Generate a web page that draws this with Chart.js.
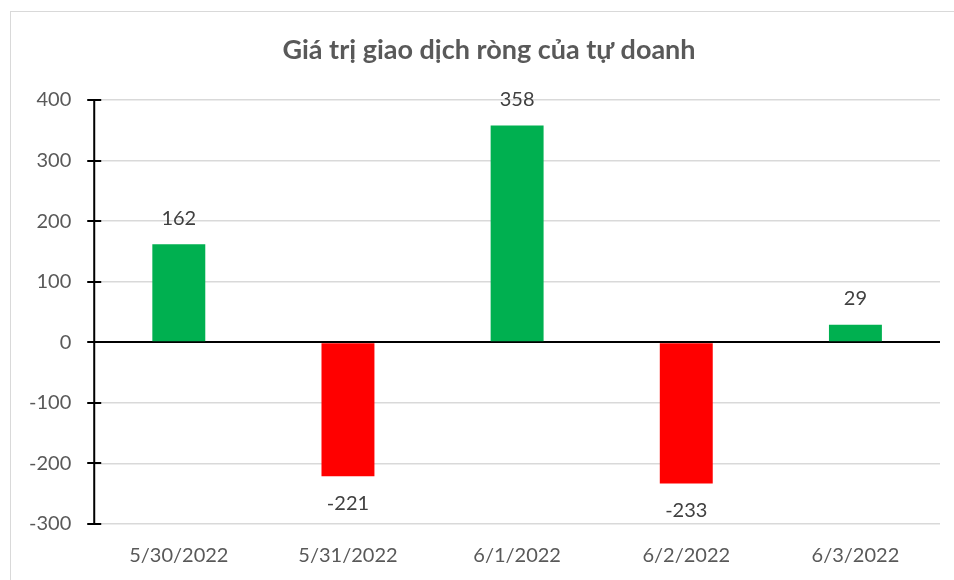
<!DOCTYPE html>
<html>
<head>
<meta charset="utf-8">
<script src="https://cdn.jsdelivr.net/npm/chart.js@4.4.1/dist/chart.umd.min.js"></script>
<style>
  html, body { margin: 0; padding: 0; background: #fff; }
  #wrap { position: relative; width: 954px; height: 580px; overflow: hidden; }
  #frame { position: absolute; left: 10px; top: 11px; width: 980px; height: 600px; border: 1px solid #d9d9d9; }
  canvas { position: absolute; left: 0; top: 0; }
</style>
</head>
<body>
<div id="wrap">
  <div id="frame"></div>
  <canvas id="chart" width="954" height="580"></canvas>
</div>
<script>
// Data
const dates = ['5/30/2022', '5/31/2022', '6/1/2022', '6/2/2022', '6/3/2022'];
const netValues = [162, -221, 358, -233, 29];
const chartTitle = 'Giá trị giao dịch ròng của tự doanh';

const GREEN = '#00B050';
const RED = '#FF0000';
const FONT = "Lato, 'Open Sans', sans-serif";

// Title centred on the whole chart frame (Excel style), not on the canvas
const frameTitle = {
    id: 'frameTitle',
    afterDraw(chart) {
        const ctx = chart.ctx;
        ctx.save();
        ctx.font = 'bold 27px ' + FONT;
        ctx.fillStyle = '#595959';
        ctx.textAlign = 'center';
        ctx.textBaseline = 'middle';
        ctx.fillText(chartTitle, 489, 50);
        ctx.restore();
    }
};

// Labels above/below bars
const valueLabels = {
    id: 'valueLabels',
    afterDatasetsDraw(chart) {
        const ctx = chart.ctx;
        const meta = chart.getDatasetMeta(0);
        ctx.save();
        ctx.font = '20px ' + FONT;
        ctx.fillStyle = '#404040';
        ctx.textAlign = 'center';
        ctx.textBaseline = 'middle';
        meta.data.forEach((bar, i) => {
            const v = netValues[i];
            const y = v >= 0 ? bar.y - 26 : bar.y + 27;
            ctx.fillText(String(v), bar.x, y);
        });
        ctx.restore();
    }
};

// Cross tick marks on the y axis, like Excel
const crossTicks = {
    id: 'crossTicks',
    afterDraw(chart) {
        const ctx = chart.ctx;
        const y = chart.scales.y;
        ctx.save();
        ctx.strokeStyle = '#000';
        ctx.lineWidth = 2;
        ctx.beginPath();
        ctx.moveTo(y.right, y.getPixelForValue(400));
        ctx.lineTo(y.right, y.getPixelForValue(-300));
        y.ticks.forEach(t => {
            const py = Math.round(y.getPixelForValue(t.value));
            ctx.moveTo(y.right - 7, py);
            ctx.lineTo(y.right + 7, py);
        });
        ctx.stroke();
        ctx.restore();
    }
};

new Chart(document.getElementById('chart'), {
    type: 'bar',
    data: {
        labels: dates,
        datasets: [{
            data: netValues,
            backgroundColor: netValues.map(v => v >= 0 ? GREEN : RED),
            barPercentage: 0.313,
            categoryPercentage: 1.0
        }]
    },
    options: {
        responsive: false,
        animation: false,
        layout: { padding: { left: 14, right: 14, top: 100, bottom: 0 } },
        plugins: {
            legend: { display: false },
            tooltip: { enabled: false },
            title: { display: false }
        },
        scales: {
            x: {
                grid: { display: false },
                border: { display: false },
                ticks: {
                    color: '#595959',
                    font: { family: FONT, size: 20 },
                    padding: 12
                }
            },
            y: {
                min: -300,
                max: 400,
                ticks: {
                    stepSize: 100,
                    color: '#595959',
                    font: { family: FONT, size: 20 },
                    padding: 15
                },
                grid: {
                    color: ctx => ctx.tick && ctx.tick.value === 0 ? '#000' : '#d9d9d9',
                    lineWidth: ctx => ctx.tick && ctx.tick.value === 0 ? 2 : 1.5,
                    tickLength: 8,
                    drawTicks: true,
                    tickColor: 'rgba(0,0,0,0)'
                },
                border: { display: false }
            }
        }
    },
    plugins: [valueLabels, crossTicks, frameTitle]
});
</script>
</body>
</html>
